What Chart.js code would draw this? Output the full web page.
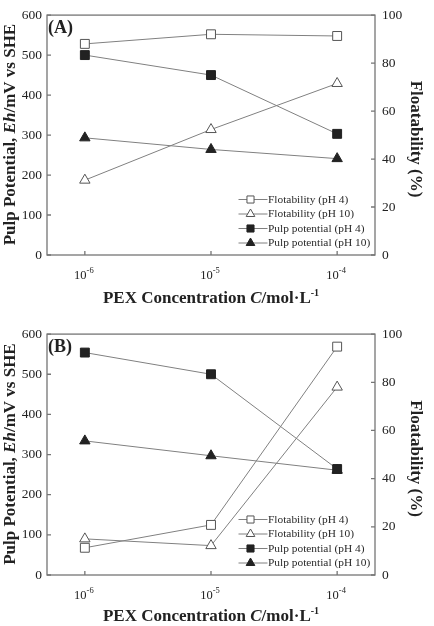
<!DOCTYPE html>
<html>
<head>
<meta charset="utf-8">
<script src="https://cdn.jsdelivr.net/npm/chart.js@4.4.0/dist/chart.umd.min.js"></script>
<style>
  html, body { margin: 0; padding: 0; background: #fff; }
  canvas { display: block; }
</style>
</head>
<body>
<canvas id="chartA" width="434" height="319"></canvas>
<canvas id="chartB" width="434" height="307"></canvas>
<script>
// PEX concentration (mol/L), x positions
const concentrations = [1e-6, 1e-5, 1e-4];
const concentrationExponents = ['-6', '-5', '-4'];
const potentialTicks = [0, 100, 200, 300, 400, 500, 600];
const floatTicks = [0, 20, 40, 60, 80, 100];
const seriesLabels = ['Flotability (pH 4)', 'Flotability (pH 10)', 'Pulp potential (pH 4)', 'Pulp potential (pH 10)'];

// panel (A)
const flotPH4A = [88, 92, 91.3];
const flotPH10A = [31.2, 52.3, 71.5];
const pulpPH4A = [500, 450, 303];
const pulpPH10A = [293, 264, 241];

// panel (B)
const flotPH4B = [11.3, 20.8, 94.8];
const flotPH10B = [15, 12.2, 78];
const pulpPH4B = [554, 500, 264];
const pulpPH10B = [334, 297, 261];

const SERIF = '"Liberation Serif", "Times New Roman", serif';
const LINE = '#808080';
const INK = '#222';
const FRAME = '#757575';

const makeSet = (label, values, axis, style, filled) => ({
  label: label,
  data: concentrations.map((c, i) => ({ x: c, y: values[i] })),
  yAxisID: axis,
  borderColor: LINE,
  borderWidth: 1,
  pointStyle: style,
  pointRadius: style === 'rect' ? 6.3 : 6,
  pointBackgroundColor: filled ? INK : '#fff',
  pointBorderColor: filled ? INK : '#555',
  pointBorderWidth: 1,
  tension: 0,
  fill: false
});

// draw a line of text made of several font runs, centred on (x, y)
function drawRuns(ctx, runs, x, y, angle, base) {
  ctx.save();
  ctx.translate(x, y);
  ctx.rotate(angle);
  let total = 0;
  runs.forEach(r => { ctx.font = r.font; r.w = ctx.measureText(r.t).width; total += r.w; });
  let cx = -total / 2;
  ctx.textAlign = 'left';
  ctx.textBaseline = 'alphabetic';
  ctx.fillStyle = INK;
  runs.forEach(r => { ctx.font = r.font; ctx.fillText(r.t, cx, base + (r.dy || 0)); cx += r.w; });
  ctx.restore();
}

const decor = {
  id: 'decor',
  beforeDatasetsDraw(chart) {
    const ctx = chart.ctx;
    const a = chart.chartArea;
    const xs = chart.scales.x, yl = chart.scales.y, yr = chart.scales.y1;
    ctx.save();
    ctx.strokeStyle = FRAME;
    ctx.lineWidth = 1.3;
    ctx.strokeRect(a.left, a.top, a.right - a.left, a.bottom - a.top);
    ctx.beginPath();
    potentialTicks.forEach(v => { const y = yl.getPixelForValue(v); ctx.moveTo(a.left, y); ctx.lineTo(a.left + 4, y); });
    floatTicks.forEach(v => { const y = yr.getPixelForValue(v); ctx.moveTo(a.right, y); ctx.lineTo(a.right - 4, y); });
    concentrations.forEach(c => { const x = xs.getPixelForValue(c); ctx.moveTo(x, a.bottom); ctx.lineTo(x, a.bottom - 4); });
    ctx.stroke();
    ctx.restore();
  },
  afterDraw(chart, args, opts) {
    const ctx = chart.ctx;
    const a = chart.chartArea;
    const xs = chart.scales.x;
    const midY = (a.top + a.bottom) / 2;

    // x tick labels 10^n
    concentrations.forEach((c, i) => {
      drawRuns(ctx, [
        { t: '10', font: '12.5px ' + SERIF },
        { t: concentrationExponents[i], font: '8.5px ' + SERIF, dy: -6 }
      ], xs.getPixelForValue(c) - 1, a.bottom + 24, 0, 0);
    });

    // axis titles
    drawRuns(ctx, [
      { t: 'PEX Concentration ', font: 'bold 17px ' + SERIF },
      { t: 'C', font: 'italic bold 17px ' + SERIF },
      { t: '/mol\u00b7L', font: 'bold 17px ' + SERIF },
      { t: '-1', font: 'bold 10px ' + SERIF, dy: -7 }
    ], (a.left + a.right) / 2, opts.titleY, 0, 6);
    drawRuns(ctx, [
      { t: 'Pulp Potential, ', font: 'bold 17px ' + SERIF },
      { t: 'Eh', font: 'italic bold 17px ' + SERIF },
      { t: '/mV vs SHE', font: 'bold 17px ' + SERIF }
    ], 9, midY - 0.5, -Math.PI / 2, 6);
    drawRuns(ctx, [
      { t: 'Floatability (%)', font: 'bold 17px ' + SERIF }
    ], 417, midY + 4, Math.PI / 2, 6);

    // panel label
    ctx.save();
    ctx.fillStyle = INK;
    ctx.font = 'bold 18px ' + SERIF;
    ctx.textAlign = 'left';
    ctx.textBaseline = 'middle';
    ctx.fillText(opts.panel, a.left + 1, a.top + 13);

    // legend
    const rows = [55.5, 41, 26.5, 12];
    chart.data.datasets.forEach((ds, i) => {
      const y = a.bottom - rows[i];
      const mx = a.left + 203.5;
      ctx.strokeStyle = LINE;
      ctx.lineWidth = 1;
      ctx.beginPath();
      ctx.moveTo(mx - 12, y);
      ctx.lineTo(mx + 17, y);
      ctx.stroke();
      ctx.fillStyle = ds.pointBackgroundColor;
      ctx.strokeStyle = ds.pointBorderColor;
      Chart.helpers.drawPoint(ctx, { pointStyle: ds.pointStyle, radius: 5, borderWidth: 1, rotation: 0 }, mx, y);
      ctx.fillStyle = '#2a2a2a';
      ctx.font = '11.4px ' + SERIF;
      ctx.textBaseline = 'middle';
      ctx.fillText(ds.label, a.left + 221, y + 0.5);
    });
    ctx.restore();
  }
};

function buildChart(id, panel, axisHeight, titleY, flot4, flot10, pulp4, pulp10) {
  return new Chart(document.getElementById(id), {
    type: 'line',
    data: {
      datasets: [
        makeSet(seriesLabels[0], flot4, 'y1', 'rect', false),
        makeSet(seriesLabels[1], flot10, 'y1', 'triangle', false),
        makeSet(seriesLabels[2], pulp4, 'y', 'rect', true),
        makeSet(seriesLabels[3], pulp10, 'y', 'triangle', true)
      ]
    },
    options: {
      responsive: false,
      devicePixelRatio: 1,
      animation: false,
      layout: { padding: { top: 14, left: 0, right: 0, bottom: 0 }, autoPadding: false },
      plugins: {
        legend: { display: false },
        tooltip: { enabled: false },
        decor: { panel: panel, titleY: titleY }
      },
      scales: {
        x: {
          type: 'logarithmic',
          min: Math.pow(10, -6.3),
          max: Math.pow(10, -3.7),
          ticks: { display: false },
          grid: { display: false, drawTicks: false },
          border: { display: false },
          afterFit: s => { s.height = axisHeight; }
        },
        y: {
          position: 'left',
          min: 0, max: 600,
          ticks: { stepSize: 100, padding: 5, color: INK, font: { family: SERIF, size: 13.5 } },
          grid: { display: false, drawTicks: false },
          border: { display: false },
          afterFit: s => { s.width = 47; }
        },
        y1: {
          position: 'right',
          min: 0, max: 100,
          ticks: { stepSize: 20, padding: 7, color: INK, font: { family: SERIF, size: 13.5 } },
          grid: { display: false, drawTicks: false },
          border: { display: false },
          afterFit: s => { s.width = 59; }
        }
      }
    },
    plugins: [decor]
  });
}

buildChart('chartA', '(A)', 64, 297, flotPH4A, flotPH10A, pulpPH4A, pulpPH10A);
buildChart('chartB', '(B)', 51, 296, flotPH4B, flotPH10B, pulpPH4B, pulpPH10B);
</script>
</body>
</html>
